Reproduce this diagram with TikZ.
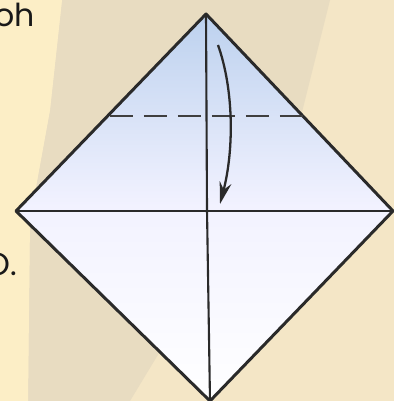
\documentclass[tikz,border=0pt]{standalone}
\usepackage{fontspec}
\setmainfont{Poppins}
\usetikzlibrary{arrows.meta}
\definecolor{PageCream}{HTML}{F4E6C6}
\definecolor{PageYellow}{HTML}{FCEEC6}
\definecolor{PageTan}{HTML}{E8DCC1}
\definecolor{PaperBlue}{HTML}{BCD1EE}
\definecolor{InkGrey}{HTML}{2A2A2A}

\begin{document}
\begin{tikzpicture}[x=0.02cm, y=-0.02cm, >={Stealth[length=0.44cm, width=0.24cm]},
  fold/.style={draw=InkGrey, line width=1.7pt, line join=round},
  crease/.style={draw=InkGrey, line width=1.2pt},
  valley/.style={draw=InkGrey!90, line width=1.7pt, dash pattern=on 0.46cm off 0.22cm},
  word/.style={font=\fontsize{18}{21}\selectfont, text=black!90, inner sep=0pt}]
  \useasboundingbox (0,0) rectangle (394,401);
  \clip (0,0) rectangle (394,401);
  % page behind the paper
  \fill[PageCream] (0,0) rectangle (394,401);
  \fill[PageTan] (62,0) -- (330,0) -- (300,120) -- (130,401) -- (28,401)
    -- (30,220) -- (50,110) -- cycle;
  \fill[PageYellow] (0,0) -- (62,0) -- (50,110) -- (30,220) -- (28,401)
    -- (0,401) -- cycle;

  % cut-off words of the text column
  \node[word, anchor=base east] (oh) at (35,27) {oh};
  \node[word, anchor=base east] (stop) at (17,275) {O.};

  % the square sheet, corner up
  \coordinate (top) at (206,14);
  \coordinate (left) at (16,211);
  \coordinate (right) at (393,211);
  \coordinate (bottom) at (210,401);
  \coordinate (mid) at (207,210);
  \shade[top color=PaperBlue, bottom color=white, middle color=blue!5]
    (top) -- (right) -- (bottom) -- (left) -- cycle;
  \draw[crease] (left) -- (right);
  \draw[crease] (top) -- (mid) -- (bottom);
  \draw[fold] (top) -- (right) -- (bottom) -- (left) -- cycle;

  % fold line and arrow
  \coordinate (dashL) at (110,116);
  \coordinate (dashR) at (303,116);
  \draw[valley] (dashL) -- (dashR);
  \coordinate (arrS) at (218,45);
  \coordinate (arrE) at (220,204);
  \draw[->, InkGrey, line width=1.3pt] (arrS) .. controls (234,90) and (234,150) .. (arrE);
\end{tikzpicture}
\end{document}
